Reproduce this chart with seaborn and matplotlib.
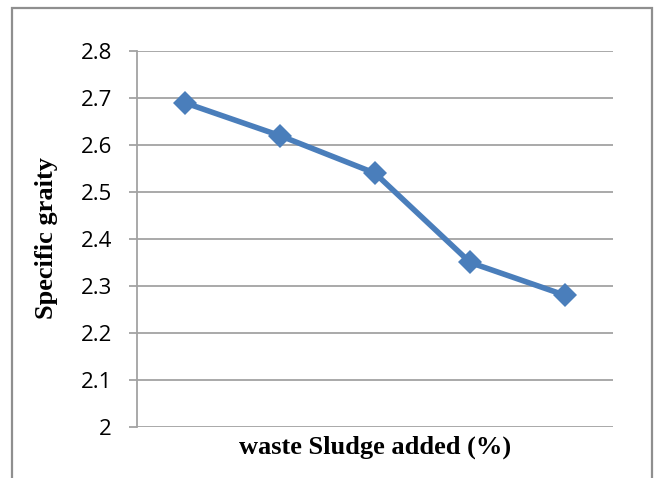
import matplotlib
matplotlib.use("Agg")
import matplotlib.pyplot as plt
from matplotlib.patches import Rectangle
import seaborn as sns
import pandas as pd

# Sample points along the category axis (no tick labels are shown)
sample_index = [1, 2, 3, 4, 5]
specific_gravity = [2.69, 2.62, 2.54, 2.35, 2.28]
y_ticks = [2.0, 2.1, 2.2, 2.3, 2.4, 2.5, 2.6, 2.7, 2.8]
y_tick_labels = ["2", "2.1", "2.2", "2.3", "2.4", "2.5", "2.6", "2.7", "2.8"]

df = pd.DataFrame({"sample": sample_index, "sg": specific_gravity})

sns.set_style("white")
fig = plt.figure(figsize=(6.58, 4.78), dpi=100)
ax = fig.add_axes([137 / 658, 1 - 427 / 478, 476 / 658, 376 / 478])

grid_color = "#a3a3a3"
for t in y_ticks:
    ax.axhline(t, color=grid_color, lw=1.3, zorder=1)

sns.lineplot(data=df, x="sample", y="sg", ax=ax, color="#4a7ebb",
             lw=4, marker="D", markersize=12, markeredgewidth=0,
             zorder=3)

ax.set_xlim(0.5, 5.5)
ax.set_ylim(2.0, 2.8)
ax.set_xticks([])
ax.set_yticks(y_ticks)
ax.set_yticklabels(y_tick_labels, fontfamily="Open Sans", fontsize=16,
                   color="black")
ax.tick_params(axis="y", length=6, width=1.3, color=grid_color, pad=12,
               left=True, labelcolor="black")

for side in ["top", "right", "bottom"]:
    ax.spines[side].set_visible(False)
ax.spines["left"].set_color(grid_color)
ax.spines["left"].set_linewidth(1.3)

ax.set_xlabel("")
ax.set_ylabel("")
fig.text(375 / 658, 1 - 447 / 478, "waste Sludge added (%)",
         fontfamily="Liberation Serif", fontweight="bold", fontsize=19,
         ha="center", va="center", color="black")
fig.text(47 / 658, 1 - 238 / 478, "Specific graity", rotation=90,
         fontfamily="Liberation Serif", fontweight="bold", fontsize=19,
         ha="center", va="center", color="black")

# Chart-area frame, open past the bottom edge
fig.patches.append(Rectangle((12 / 658, -0.02), 640 / 658, 1 - 8 / 478 + 0.02,
                             transform=fig.transFigure, fill=False,
                             edgecolor="#8f8f8f", lw=1.6))

fig.savefig("out.png", dpi=100)
